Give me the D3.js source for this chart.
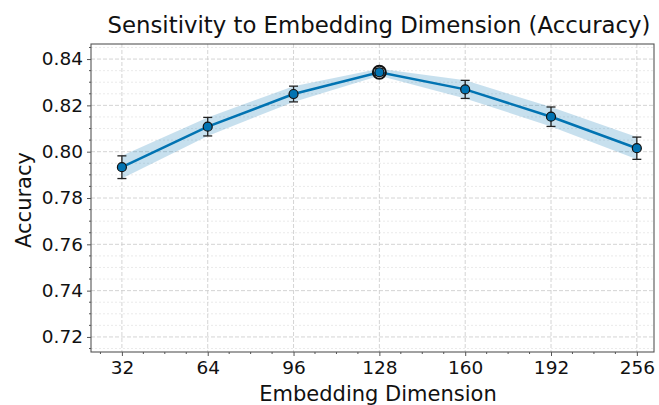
<!DOCTYPE html>
<html>
<head>
<meta charset="utf-8">
<script src="https://cdn.jsdelivr.net/npm/d3@7"></script>
<style>
  body { margin: 0; background: #fff; }
  svg { font-family: "DejaVu Sans", sans-serif; }
</style>
</head>
<body>
<div id="chart"></div>
<script>
const width = 659;
const height = 405;
const margin = {top: 44, right: 5, bottom: 53, left: 91};

// Data
const dims = ["32", "64", "96", "128", "160", "192", "256"];
const accuracy = [0.7933, 0.8108, 0.8249, 0.8343, 0.8269, 0.8151, 0.8015];
const errors = [0.0049, 0.0040, 0.0034, 0.0015, 0.0039, 0.0042, 0.0048];
const yTicks = [0.72, 0.74, 0.76, 0.78, 0.80, 0.82, 0.84];
const bestIndex = 3;

const color = "#0173b2";

const svg = d3.select("#chart")
    .append("svg")
    .attr("width", width)
    .attr("height", height);

const x = d3.scaleLinear()
    .domain([-0.36, 6.2])
    .range([margin.left, width - margin.right]);

const y = d3.scaleLinear()
    .domain([0.7135, 0.8465])
    .range([height - margin.bottom, margin.top]);

const plotL = margin.left, plotR = width - margin.right;
const plotT = margin.top, plotB = height - margin.bottom;

// minor horizontal grid (every 0.005)
const minorY = d3.range(0.715, 0.846, 0.005).filter(v => !yTicks.some(t => Math.abs(t - v) < 1e-6));
svg.append("g")
    .selectAll("line")
    .data(minorY)
    .join("line")
    .attr("x1", plotL).attr("x2", plotR)
    .attr("y1", d => y(d)).attr("y2", d => y(d))
    .attr("stroke", "#e4e4e4")
    .attr("stroke-width", 0.8)
    .attr("stroke-dasharray", "2,2");

// major grid
svg.append("g")
    .selectAll("line")
    .data(yTicks)
    .join("line")
    .attr("x1", plotL).attr("x2", plotR)
    .attr("y1", d => y(d)).attr("y2", d => y(d))
    .attr("stroke", "#cfcfcf")
    .attr("stroke-width", 0.9)
    .attr("stroke-dasharray", "4,2");

svg.append("g")
    .selectAll("line")
    .data(dims)
    .join("line")
    .attr("x1", (d, i) => x(i)).attr("x2", (d, i) => x(i))
    .attr("y1", plotT).attr("y2", plotB)
    .attr("stroke", "#cfcfcf")
    .attr("stroke-width", 0.9)
    .attr("stroke-dasharray", "4,2");

// shaded band
const area = d3.area()
    .x((d, i) => x(i))
    .y0((d, i) => y(d - errors[i]))
    .y1((d, i) => y(d + errors[i]));

svg.append("path")
    .datum(accuracy)
    .attr("d", area)
    .attr("fill", color)
    .attr("fill-opacity", 0.22);

// line
const line = d3.line()
    .x((d, i) => x(i))
    .y(d => y(d));

svg.append("path")
    .datum(accuracy)
    .attr("d", line)
    .attr("fill", "none")
    .attr("stroke", color)
    .attr("stroke-width", 2.5);

// error bars
const eb = svg.append("g")
    .attr("stroke", "#222")
    .attr("stroke-width", 1.3);

accuracy.forEach((d, i) => {
    const cx = x(i);
    eb.append("line")
        .attr("x1", cx).attr("x2", cx)
        .attr("y1", y(d - errors[i])).attr("y2", y(d + errors[i]));
    [d - errors[i], d + errors[i]].forEach(v => {
        eb.append("line")
            .attr("x1", cx - 4.5).attr("x2", cx + 4.5)
            .attr("y1", y(v)).attr("y2", y(v));
    });
});

// markers
svg.append("g")
    .selectAll("circle")
    .data(accuracy)
    .join("circle")
    .attr("cx", (d, i) => x(i))
    .attr("cy", d => y(d))
    .attr("r", 4.5)
    .attr("fill", color)
    .attr("stroke", "#111")
    .attr("stroke-width", 1.2);

// highlight best point
svg.append("circle")
    .attr("cx", x(bestIndex))
    .attr("cy", y(accuracy[bestIndex]))
    .attr("r", 6.5)
    .attr("fill", "none")
    .attr("stroke", "#111")
    .attr("stroke-width", 2);

// frame
svg.append("rect")
    .attr("x", plotL).attr("y", plotT)
    .attr("width", plotR - plotL).attr("height", plotB - plotT)
    .attr("fill", "none")
    .attr("stroke", "#555")
    .attr("stroke-width", 1.1);

// y axis
const yAxis = svg.append("g")
    .attr("transform", `translate(${plotL},0)`)
    .call(d3.axisLeft(y).tickValues(yTicks).tickFormat(d3.format(".2f")).tickSize(4).tickPadding(4));
yAxis.select(".domain").remove();
yAxis.selectAll("line").attr("stroke", "#555");
yAxis.selectAll("text").attr("font-size", 18.5).attr("fill", "#111").attr("font-family", "DejaVu Sans");

// y minor ticks
svg.append("g")
    .selectAll("line")
    .data(minorY)
    .join("line")
    .attr("x1", plotL - 2).attr("x2", plotL)
    .attr("y1", d => y(d)).attr("y2", d => y(d))
    .attr("stroke", "#555");

// x axis
const xAxis = svg.append("g")
    .attr("transform", `translate(0,${plotB})`)
    .call(d3.axisBottom(x).tickValues(d3.range(dims.length)).tickFormat(i => dims[i]).tickSize(4).tickPadding(5));
xAxis.select(".domain").remove();
xAxis.selectAll("line").attr("stroke", "#555");
xAxis.selectAll("text").attr("font-size", 18.5).attr("fill", "#111").attr("font-family", "DejaVu Sans");

// x minor ticks
const minorX = d3.range(-0.25, 6.2, 0.25).filter(v => Math.abs(v - Math.round(v)) > 1e-6);
svg.append("g")
    .selectAll("line")
    .data(minorX)
    .join("line")
    .attr("x1", d => x(d)).attr("x2", d => x(d))
    .attr("y1", plotB).attr("y2", plotB + 2)
    .attr("stroke", "#555");

// labels
svg.append("text")
    .attr("x", 379)
    .attr("y", 33)
    .attr("text-anchor", "middle")
    .attr("font-size", 22.8)
    .attr("fill", "#111")
    .text("Sensitivity to Embedding Dimension (Accuracy)");

svg.append("text")
    .attr("x", 378)
    .attr("y", 401)
    .attr("text-anchor", "middle")
    .attr("font-size", 21)
    .attr("fill", "#111")
    .text("Embedding Dimension");

svg.append("text")
    .attr("transform", `translate(31,${(plotT + plotB) / 2 + 2}) rotate(-90)`)
    .attr("text-anchor", "middle")
    .attr("font-size", 21)
    .attr("fill", "#111")
    .text("Accuracy");
</script>
</body>
</html>
